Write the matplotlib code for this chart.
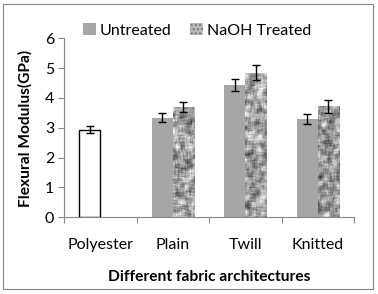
import numpy as np
import matplotlib
matplotlib.use("Agg")
import matplotlib.pyplot as plt
from matplotlib.patches import Patch, Rectangle

plt.rcParams['font.family'] = ['Lato', 'DejaVu Sans']

categories = ["Polyester", "Plain", "Twill", "Knitted"]
polyester_value = 2.94
polyester_err = 0.13
untreated = [3.33, 4.44, 3.30]
untreated_err = [0.15, 0.21, 0.16]
naoh = [3.70, 4.85, 3.72]
naoh_err = [0.17, 0.25, 0.21]
yticks = [0, 1, 2, 3, 4, 5, 6]

fig = plt.figure(figsize=(3.78, 2.94), dpi=100)
ax = fig.add_axes([64/378, 1-217.3/294, (354-64)/378, (217.3-38.3)/294])

w = 0.29
centers = np.arange(len(categories)) + 0.5
ecol = dict(ecolor='black', elinewidth=1.0, capsize=2.9, capthick=1.0)

# Polyester
ax.bar(centers[0] - w/2, polyester_value, w, color='white', edgecolor='black', linewidth=1.0,
       yerr=polyester_err, error_kw=ecol, zorder=2)
# Untreated
ax.bar(centers[1:] - w/2, untreated, w, color='#a6a6a6', yerr=untreated_err, error_kw=ecol, zorder=2)
# NaOH treated with mottled texture
nb = ax.bar(centers[1:] + w/2, naoh, w, color='#a8a8a8', zorder=2)

rng = np.random.default_rng(3)
def texture(nr, nc):
    n = rng.random((nr + 8, nc + 8))
    k = np.ones(5) / 5
    n = np.apply_along_axis(lambda r: np.convolve(r, k, mode='same'), 1, n)
    n = np.apply_along_axis(lambda c: np.convolve(c, k, mode='same'), 0, n)
    n = n[4:-4, 4:-4]
    n = (n - n.min()) / (n.max() - n.min())
    return n

for rect in nb:
    x0, h = rect.get_x(), rect.get_height()
    nr = int(h * 30)
    tex = texture(nr, 22)
    im = ax.imshow(tex, cmap='gray', vmin=-0.3, vmax=1.0, extent=(x0, x0 + w, 0, h),
                   aspect='auto', interpolation='bilinear', zorder=2.5)
    im.set_clip_path(rect)
ax.errorbar(centers[1:] + w/2, naoh, yerr=naoh_err, fmt='none', zorder=3, **ecol)

ax.set_xlim(0, 4)
ax.set_ylim(0, 6)
ax.set_yticks(yticks)
ax.set_yticklabels([str(t) for t in yticks])
ax.set_xticks([0, 1, 2, 3, 4], minor=False)
ax.set_xticklabels([])
ax.set_xticks(centers, minor=True)
ax.set_xticklabels(categories, minor=True)
ax.tick_params(axis='x', which='major', length=4, width=0.8, color='#868686', direction='out')
ax.tick_params(axis='x', which='minor', length=0, pad=15, labelsize=11.5)
ax.tick_params(axis='y', length=4, width=0.8, color='#868686', pad=3, labelsize=11.5)
for s in ['top', 'right']:
    ax.spines[s].set_visible(False)
for s in ['left', 'bottom']:
    ax.spines[s].set_color('#868686')
    ax.spines[s].set_linewidth(0.8)

fig.text(25/378, 1-128/294, "Flexural Modulus(GPa)", rotation=90, fontweight='bold',
         fontsize=11.2, ha='center', va='center')
fig.text(209.5/378, 1-277/294, "Different fabric architectures", fontweight='bold',
         fontsize=11.2, ha='center', va='center')

handles = [Patch(facecolor='#a6a6a6', edgecolor='none'),
           Patch(facecolor='#b8b8b8', edgecolor='#777777', hatch='....', linewidth=0)]
fig.legend(handles, ["Untreated", "NaOH Treated"], loc='center left',
           bbox_to_anchor=(78/378, 1-30.5/294), ncol=2, frameon=False, fontsize=11.5,
           handlelength=0.8, handleheight=0.8, handletextpad=0.25, columnspacing=1.2,
           borderaxespad=0, borderpad=0.3)

fig.add_artist(Rectangle((2.7/378, 1-288.7/294), 370/378, 284.4/294, transform=fig.transFigure,
                         fill=False, edgecolor='#868686', linewidth=0.8))

fig.savefig("out.png", dpi=100)
